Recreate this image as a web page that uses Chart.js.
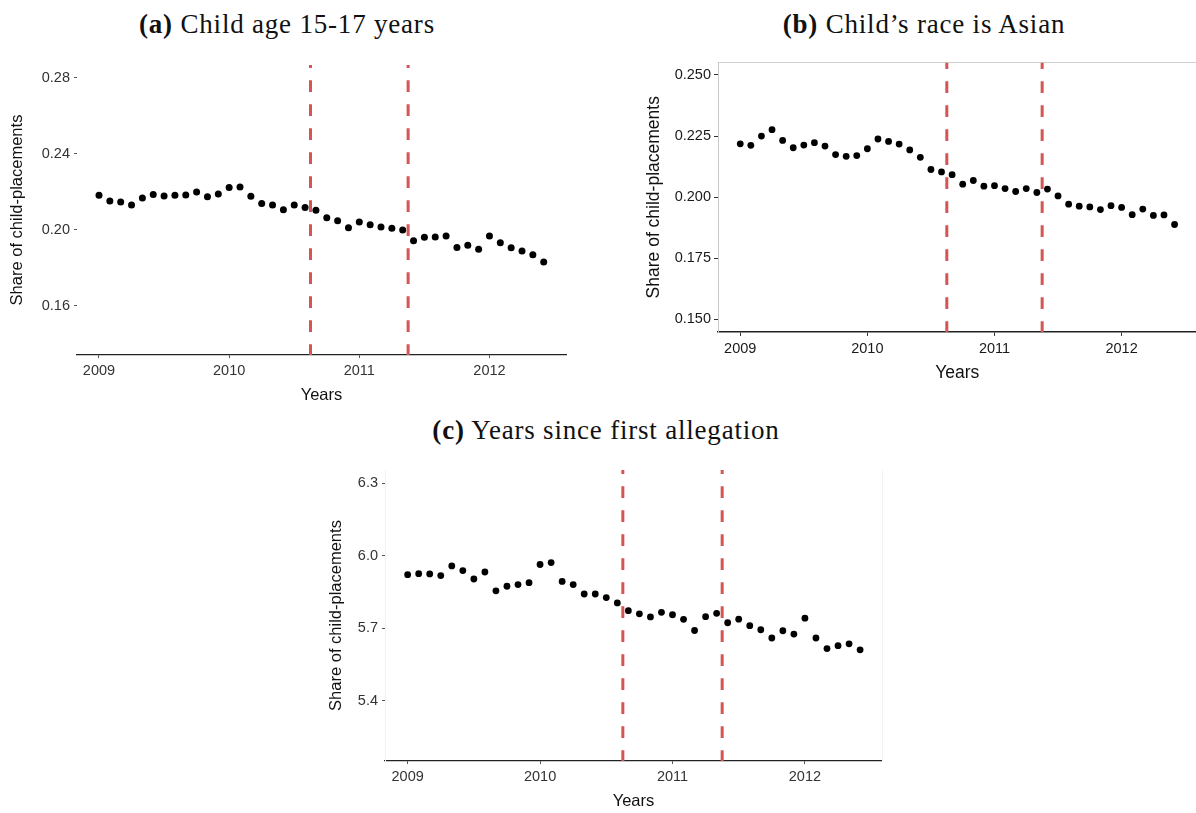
<!DOCTYPE html>
<html><head><meta charset="utf-8">
<script src="https://cdn.jsdelivr.net/npm/chart.js@4.4.1/dist/chart.umd.min.js"></script>
<style>
html,body{margin:0;padding:0;background:#fff;width:1196px;height:813px;overflow:hidden;position:relative}
.t{position:absolute;font-family:'Liberation Serif','DejaVu Serif',serif;font-size:27px;letter-spacing:0.8px;color:#111;white-space:nowrap;transform:translateX(-50%);line-height:30px}
.t b{font-weight:bold}
canvas{position:absolute}
</style></head><body>
<div class="t" style="left:287px;top:9px"><b>(a)</b> Child age 15-17 years</div>
<div class="t" style="left:924px;top:9px"><b>(b)</b> Child’s race is Asian</div>
<div class="t" style="left:606px;top:415px"><b>(c)</b> Years since first allegation</div>
<canvas id="ca" width="580" height="380" style="left:0px;top:40px"></canvas>
<canvas id="cb" width="600" height="360" style="left:600px;top:40px"></canvas>
<canvas id="cc" width="600" height="368" style="left:300px;top:445px"></canvas>
<script>
// ---- data ----
const months = ['2009-01','2009-02','2009-03','2009-04','2009-05','2009-06','2009-07','2009-08','2009-09','2009-10','2009-11','2009-12',
  '2010-01','2010-02','2010-03','2010-04','2010-05','2010-06','2010-07','2010-08','2010-09','2010-10','2010-11','2010-12',
  '2011-01','2011-02','2011-03','2011-04','2011-05','2011-06','2011-07','2011-08','2011-09','2011-10','2011-11','2011-12',
  '2012-01','2012-02','2012-03','2012-04','2012-05','2012-06'];
const shareAge1517 = [0.2182,0.2152,0.2147,0.2131,0.2168,0.2187,0.2179,0.2182,0.2184,0.2200,0.2175,0.2189,
  0.2224,0.2226,0.2177,0.2139,0.2131,0.2106,0.2131,0.2118,0.2104,0.2064,0.2048,0.2011,
  0.2042,0.2028,0.2016,0.2009,0.2000,0.1943,0.1961,0.1963,0.1968,0.1908,0.1919,0.1899,
  0.1968,0.1933,0.1906,0.1889,0.1869,0.1832];
const shareAsian = [0.2218,0.2212,0.2250,0.2276,0.2232,0.2202,0.2213,0.2223,0.2209,0.2174,0.2167,0.2170,
  0.2198,0.2238,0.2228,0.2217,0.2193,0.2163,0.2113,0.2103,0.2092,0.2053,0.2068,0.2045,
  0.2047,0.2035,0.2023,0.2035,0.2019,0.2033,0.2005,0.1971,0.1963,0.1960,0.1949,0.1965,
  0.1958,0.1928,0.1951,0.1925,0.1927,0.1888];
const yearsSinceAllegation = [5.921,5.925,5.924,5.917,5.957,5.938,5.903,5.932,5.854,5.873,5.880,5.888,
  5.963,5.971,5.893,5.880,5.841,5.841,5.826,5.804,5.772,5.759,5.746,5.765,
  5.755,5.736,5.690,5.747,5.761,5.722,5.737,5.710,5.693,5.659,5.689,5.675,
  5.741,5.659,5.615,5.627,5.635,5.610];
const policyLines = [2010.625, 2011.375];
const yearTicks = [2009, 2010, 2011, 2012];
const yTicksA = [0.16, 0.20, 0.24, 0.28];
const yTicksB = [0.150, 0.175, 0.200, 0.225, 0.250];
const yTicksC = [5.4, 5.7, 6.0, 6.3];
const xTitle = 'Years';
const yTitle = 'Share of child-placements';

// ---- drawing ----
const RED = 'rgb(213,84,84)';
const SANS = "'Liberation Sans', Arial, sans-serif";
function toYear(s){ const p = s.split('-').map(Number); return p[0] + (p[1]-1)/12; }

function panel(id, o){
  const pts = months.map((m,i)=>({x: toYear(m), y: o.values[i]}));
  const datasets = [{data: pts, showLine:false, pointRadius:o.r, pointHoverRadius:o.r,
      pointBackgroundColor:'#000', pointBorderWidth:0, borderColor:'#000', order:0}];
  policyLines.forEach(x=>datasets.push({data:[{x:x,y:o.yMin},{x:x,y:o.yMax}], showLine:true,
      pointRadius:0, borderColor:RED, borderWidth:3, borderDash:[11.7,12.3], borderDashOffset:1, order:1}));
  const scales = {
    x: {type:'linear', min:o.xMin, max:o.xMax,
      afterFit(s){ s.height = o.xH; },
      afterBuildTicks(s){ s.ticks = yearTicks.map(v=>({value:v})); },
      ticks:{font:{family:SANS,size:o.tfs}, color:o.tc, padding:o.xtp, maxRotation:0, autoSkip:false, callback:v=>String(v)},
      grid:{display:true, drawOnChartArea:false, drawTicks:true, tickLength:o.tl, tickColor:o.tkc, tickWidth:1},
      border:{display:true, color:o.xbc, width:o.xbw},
      title:{display:true, text:xTitle, font:{family:SANS,size:o.afs}, color:'#111', padding:{top:0,bottom:o.xtitlePad}}},
    y: {type:'linear', min:o.yMin, max:o.yMax,
      afterFit(s){ s.width = o.yW; },
      afterBuildTicks(s){ s.ticks = o.yTicks.map(v=>({value:v})); },
      ticks:{font:{family:SANS,size:o.tfs}, color:o.tc, padding:o.ytp, callback:v=>Number(v).toFixed(o.dec)},
      grid:{display:true, drawOnChartArea:false, drawTicks:true, tickLength:o.tl, tickColor:o.tkc, tickWidth:1},
      border:{display:o.ybc!==null, color:o.ybc||'#fff', width:1},
      title:{display:true, text:yTitle, font:{family:SANS,size:o.afs}, color:'#111', padding:{top:o.ytitlePad,bottom:0}}}
  };
  if (o.topBorder) scales.xTop = {type:'linear', position:'top', min:o.xMin, max:o.xMax,
      afterFit(s){ s.height = 0; }, ticks:{display:false}, grid:{display:false},
      border:{display:true, color:o.topBorder, width:1}};
  if (o.rightBorder) scales.yRight = {type:'linear', position:'right', min:o.yMin, max:o.yMax,
      afterFit(s){ s.width = 0; }, ticks:{display:false}, grid:{display:false},
      border:{display:true, color:o.rightBorder, width:1}};
  new Chart(document.getElementById(id), {
    type:'scatter',
    data:{datasets},
    options:{responsive:false, animation:false, devicePixelRatio:1,
      layout:{padding:o.pad},
      plugins:{legend:{display:false}, tooltip:{enabled:false}},
      scales}
  });
}

panel('ca', {values:shareAge1517, yTicks:yTicksA, dec:2, r:3.5,
  xMin:2008.831, xMax:2012.588, yMin:0.1342, yMax:0.2868,
  pad:{top:25,right:14,left:0,bottom:0}, xH:65, yW:77,
  tfs:14.5, afs:16.5, tc:'#333', tkc:'#555', tl:3, xtp:4, ytp:4,
  xbc:'#222', xbw:1.3, ybc:null, xtitlePad:15, ytitlePad:8});

panel('cb', {values:shareAsian, yTicks:yTicksB, dec:3, r:3.4,
  xMin:2008.825, xMax:2012.59, yMin:0.1448, yMax:0.2551,
  pad:{top:22.5,right:0,left:0,bottom:0}, xH:68, yW:118,
  tfs:14.5, afs:17.5, tc:'#1a1a1a', tkc:'#333', tl:4, xtp:4, ytp:3,
  xbc:'#222', xbw:1.6, ybc:'#c8c8c8', topBorder:'#d0d0d0', xtitlePad:16.5, ytitlePad:43.5});

panel('cc', {values:yearsSinceAllegation, yTicks:yTicksC, dec:1, r:3.4,
  xMin:2008.829, xMax:2012.582, yMin:5.150, yMax:6.354,
  pad:{top:25,right:18,left:0,bottom:0}, xH:52, yW:85,
  tfs:14.5, afs:16.5, tc:'#333', tkc:'#555', tl:3, xtp:4, ytp:4,
  xbc:'#222', xbw:1.3, ybc:'#f3f3f3', rightBorder:'#f3f3f3', xtitlePad:1.2, ytitlePad:27});
</script>
</body></html>
